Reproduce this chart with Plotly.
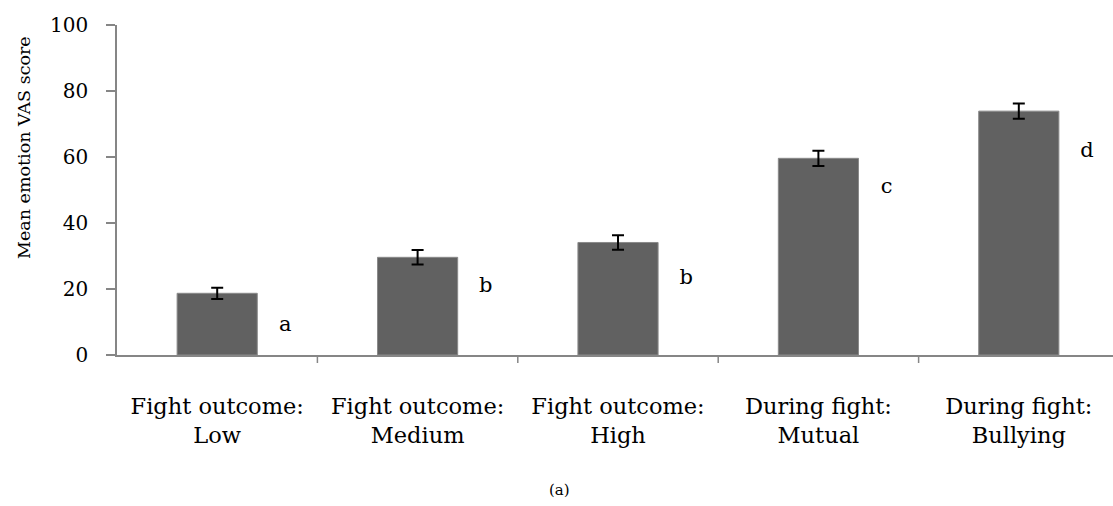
import plotly.graph_objects as go

categories = ["Fight outcome:<br>Low", "Fight outcome:<br>Medium", "Fight outcome:<br>High",
              "During fight:<br>Mutual", "During fight:<br>Bullying"]
means = [18.7, 29.6, 34.1, 59.6, 73.9]
errors = [1.7, 2.2, 2.2, 2.3, 2.3]
letters = ["a", "b", "b", "c", "d"]
letter_y = [9.0, 20.7, 23.0, 50.6, 61.6]

FONT = "DejaVu Serif"
x_idx = list(range(len(categories)))

fig = go.Figure()
fig.add_trace(go.Bar(
    x=x_idx, y=means, width=0.4,
    marker=dict(color="#616161", line=dict(color="#8a8a8a", width=1)),
    error_y=dict(type="data", array=errors, color="black", thickness=2, width=6),
))
fig.add_trace(go.Scatter(
    x=[i + 0.34 for i in x_idx], y=letter_y, mode="text", text=letters,
    textfont=dict(family=FONT, size=21, color="black"), showlegend=False,
))
fig.update_layout(
    width=1113, height=506, showlegend=False,
    margin=dict(l=117, r=0, t=25, b=151),
    plot_bgcolor="white", paper_bgcolor="white",
    font=dict(family=FONT, size=20, color="black"),
    xaxis=dict(range=[-0.5, 4.47], tickmode="array", tickvals=x_idx, ticktext=categories,
               showline=True, linecolor="#868686", linewidth=1.5, showgrid=False,
               ticks="", ticklabelstandoff=30, tickfont=dict(size=22.5)),
    yaxis=dict(range=[0, 100], tickvals=[0, 20, 40, 60, 80, 100], showline=True,
               linecolor="#868686", linewidth=1.5, showgrid=False, zeroline=False,
               ticks="outside", ticklen=9, tickcolor="#868686", tickwidth=1.5,
               ticklabelstandoff=14, tickfont=dict(size=20)),
    annotations=[
        dict(text="(a)", x=(559 - 117) / 996, xref="paper", y=-0.409, yref="paper",
             yanchor="middle", showarrow=False, font=dict(size=15, family=FONT)),
        dict(text="Mean emotion VAS score", textangle=-90, x=(24 - 117) / 996, xref="paper",
             xanchor="center", y=(355 - 148) / 330, yref="paper", yanchor="middle",
             showarrow=False, font=dict(size=17.5, family=FONT)),
    ],
)
# category boundary ticks
for b in [0.5, 1.5, 2.5, 3.5]:
    fig.add_shape(type="line", x0=b, x1=b, xref="x", y0=0, y1=-8, yref="y domain", ysizemode="pixel",
                  yanchor=0, line=dict(color="#868686", width=1.5))
fig.write_html("out.html", config={"displayModeBar": False},
               post_script="document.body.style.margin='0px';")
